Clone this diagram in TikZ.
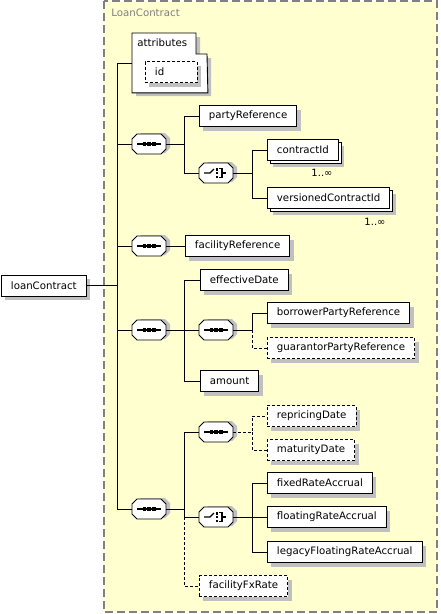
\documentclass[tikz,border=0pt]{standalone}
\usepackage{fontspec}
\setmainfont{DejaVu Sans}
\usetikzlibrary{shadows}
\definecolor{bg}{RGB}{255,255,208}
\definecolor{shd}{RGB}{192,192,192}
\definecolor{framegray}{RGB}{128,128,128}
\begin{document}
\begin{tikzpicture}[x=1pt,y=-1pt,font=\fontsize{10.2}{12}\selectfont,line width=0.9pt,
  elbase/.style={draw,fill=white,anchor=west,minimum height=21pt,inner xsep=9.5pt,inner ysep=0pt},
  el/.style={elbase,drop shadow={shadow xshift=4pt,shadow yshift=-4pt,fill=shd,opacity=1}},
  opt/.style={el,dash pattern=on 3pt off 2pt},
  multi/.style={elbase,drop shadow={shadow xshift=6pt,shadow yshift=-6pt,fill=shd,opacity=1},
    copy shadow={shadow xshift=3pt,shadow yshift=-3pt}},
  comp/.style={minimum width=34pt,minimum height=20pt,inner sep=0pt},
  opt line/.style={dash pattern=on 3pt off 2pt},
  mult/.style={inner sep=0pt,font=\fontsize{10}{12}\selectfont},
  octa/.pic={\fill[shd] (-13,-6) -- (-8,-11) -- (16,-11) -- (21,-6) -- (21,4) -- (16,9) -- (-8,9) -- (-13,4) -- cycle;
    \draw[fill=white] (-17,-5) -- (-12,-10) -- (12,-10) -- (17,-5) -- (17,5) -- (12,10) -- (-12,10) -- (-17,5) -- cycle;},
  seqsym/.pic={\pic {octa};
    \draw[line width=1.1pt] (-12,0) -- (12,0);
    \fill (-6.5,-1.7) rectangle (-3.1,1.7);
    \fill (-1.7,-1.7) rectangle (1.7,1.7);
    \fill (3.1,-1.7) rectangle (6.5,1.7);},
  chosym/.pic={\pic {octa};
    \draw[line width=1.1pt] (-12,0) -- (-6,0) -- (-2,-4);
    \fill (-0.5,-5) rectangle (2.2,-2.5);
    \fill (-0.5,-1.3) rectangle (2.2,1.3);
    \fill (-0.5,2.5) rectangle (2.2,5);
    \draw[line width=1.1pt] (3,-4.5) -- (6,-4.5) -- (6,4.5) -- (3,4.5);
    \draw[line width=1.1pt] (6,0) -- (10,0);}
]
\useasboundingbox (0,0) rectangle (440,614);
% outer frame
\draw[framegray,dash pattern=on 8pt off 4pt,line width=1.2pt,fill=bg] (104,1) rectangle (437,612);
\node[anchor=west,text=framegray,inner sep=0pt] (frlbl) at (111,13) {LoanContract};

\coordinate (b1) at (117,0);
\coordinate (b2) at (184,0);
\coordinate (b3) at (252,0);

% root
\node[el] (loan) at (1,285.5) {loanContract};

% attributes
\node[minimum width=75pt,minimum height=59pt,inner sep=0pt,anchor=north west] (att) at (132,33) {};
\fill[shd] ([shift={(4,4)}]att.north west) -- ++(64,0) -- ++(0,21) -- ++(11,0) -- ++(0,38) -- ++(-75,0) -- cycle;
\draw[fill=white] (att.north west) -- ++(64,0) -- ++(0,21) -- ++(11,0) -- (att.south east) -- (att.south west) -- cycle;
\node[anchor=west,inner sep=0pt] (attlbl) at ([shift={(5,10)}]att.north west) {attributes};
\node[opt,text width=33pt] (id) at (145,72) {id};

% compositors
\node[comp] (s1) at (149,144) {};
\node[comp] (c1) at (216,173) {};
\node[comp] (s2) at (149,246) {};
\node[comp] (s3) at (149,330) {};
\node[comp] (s4) at (216,330) {};
\node[comp] (s5) at (149,509) {};
\node[comp] (s6) at (216,432) {};
\node[comp] (c2) at (216,517) {};
\pic at (s1.center) {seqsym};
\pic at (s2.center) {seqsym};
\pic at (s3.center) {seqsym};
\pic at (s4.center) {seqsym};
\pic at (s5.center) {seqsym};
\pic at (s6.center) {seqsym};
\pic at (c1.center) {chosym};
\pic at (c2.center) {chosym};

% elements
\node[el] (party) at (199,116) {partyReference};
\node[multi] (cid) at (267,150) {contractId};
\node[mult] (m1) at (322,173) {1..\char"221E};
\node[multi] (vcid) at (267,198) {versionedContractId};
\node[mult] (m2) at (375,222) {1..\char"221E};
\node[el] (facref) at (185,246) {facilityReference};
\node[el] (eff) at (200,280) {effectiveDate};
\node[el] (borrower) at (267,313) {borrowerPartyReference};
\node[opt] (guar) at (267,348) {guarantorPartyReference};
\node[el] (amount) at (200,381) {amount};
\node[opt] (rep) at (267,416) {repricingDate};
\node[opt] (mat) at (267,450) {maturityDate};
\node[el] (fixed) at (267,483) {fixedRateAccrual};
\node[el] (floating) at (267,517) {floatingRateAccrual};
\node[el] (legacy) at (267,552) {legacyFloatingRateAccrual};
\node[opt] (fx) at (199,586) {facilityFxRate};

% connectors
\draw (loan.east) -- (loan.east -| b1) |- (att.west);
\draw (loan.east -| b1) |- (s1.west);
\draw (loan.east -| b1) |- (s2.west);
\draw (loan.east -| b1) |- (s3.west);
\draw (loan.east -| b1) |- (s5.west);
\draw (s1.east) -- (s1.east -| b2) |- (party.west);
\draw (s1.east -| b2) |- (c1.west);
\draw (c1.east) -- (c1.east -| b3) |- (cid.west);
\draw (c1.east -| b3) |- (vcid.west);
\draw (s2.east) -- (facref.west);
\draw (s3.east) -- (s3.east -| b2) |- (eff.west);
\draw (s3.east -| b2) -- (s4.west);
\draw (s3.east -| b2) |- (amount.west);
\draw (s4.east) -- (s4.east -| b3) |- (borrower.west);
\draw[opt line] (s4.east -| b3) |- (guar.west);
\draw (s5.east) -- (s5.east -| b2) |- (s6.west);
\draw (s5.east -| b2) |- (c2.west);
\draw[opt line] (c2.west -| b2) |- (fx.west);
\draw[opt line] (s6.east) -- (s6.east -| b3) |- (rep.west);
\draw[opt line] (s6.east -| b3) |- (mat.west);
\draw (c2.east) -- (c2.east -| b3) |- (fixed.west);
\draw (c2.east -| b3) -- (floating.west);
\draw (c2.east -| b3) |- (legacy.west);
\end{tikzpicture}
\end{document}
